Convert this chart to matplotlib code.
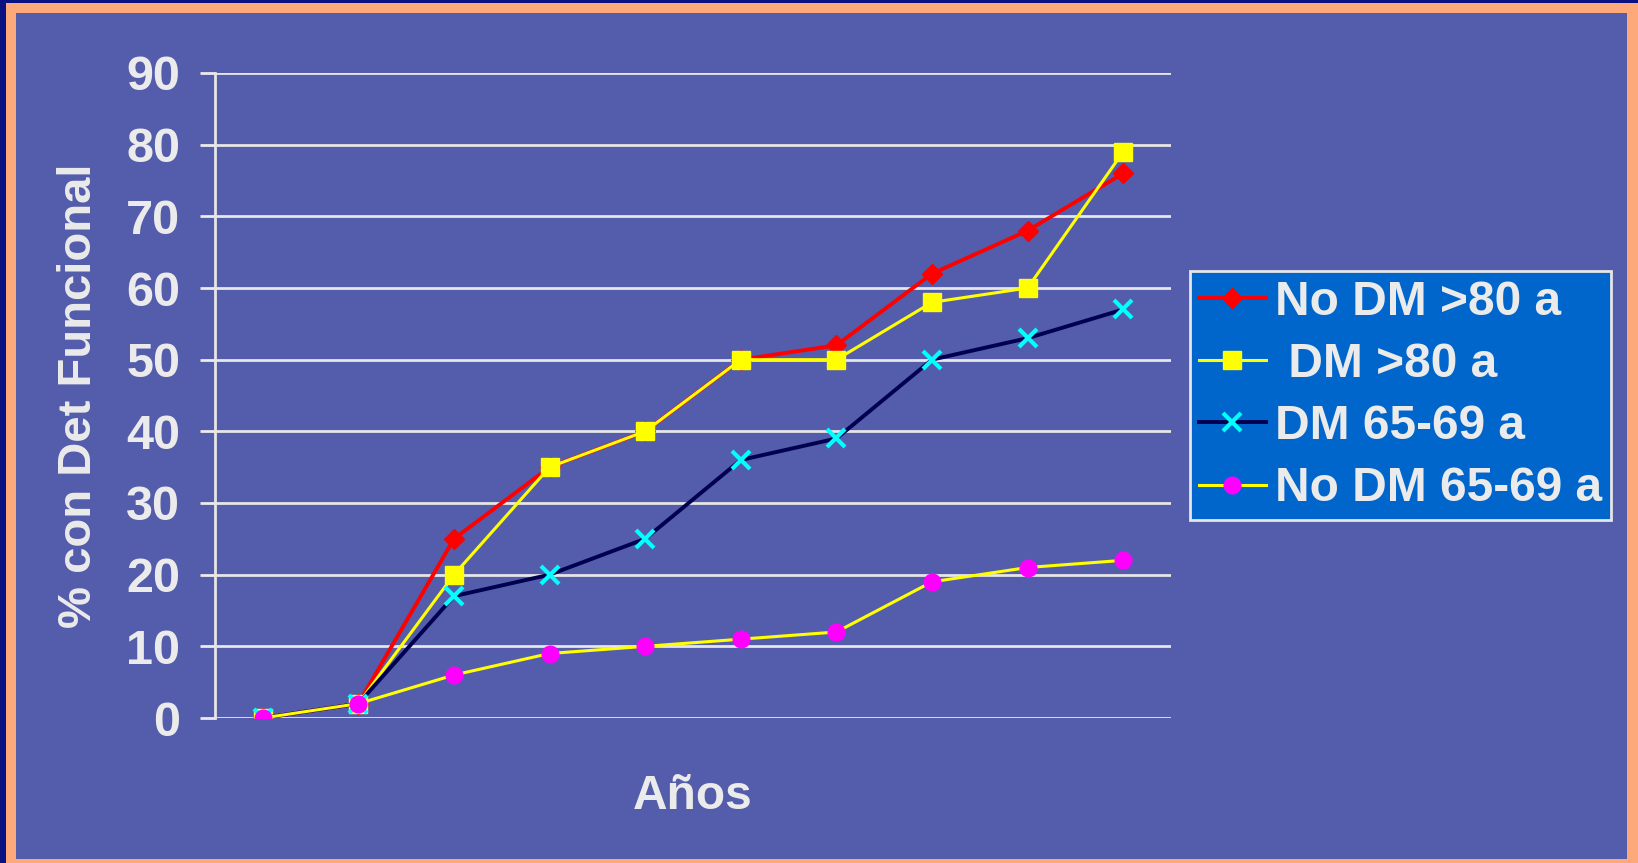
import matplotlib.pyplot as plt
from matplotlib.patches import Rectangle

plt.rcParams['font.family'] = ['Liberation Sans', 'DejaVu Sans']

years = list(range(10))
no_dm_80 = [0, 2, 25, 35, 40, 50, 52, 62, 68, 76]
dm_80 = [0, 2, 20, 35, 40, 50, 50, 58, 60, 79]
dm_65 = [0, 2, 17, 20, 25, 36, 39, 50, 53, 57]
no_dm_65 = [0, 2, 6, 9, 10, 11, 12, 19, 21, 22]
labels = ['No DM >80 a', ' DM >80 a', 'DM 65-69 a', 'No DM 65-69 a']
yticks = list(range(0, 100, 10))

txt = '#EBEBEB'
W, H = 1638, 863
fig = plt.figure(figsize=(W / 100, H / 100), dpi=100)
fig.patch.set_facecolor('#0A1282')
# orange frame and purple panel
fig.patches.append(Rectangle((6 / W, 0), 1 - 6 / W, 1 - 3 / H, transform=fig.transFigure,
                             facecolor='#FDA979', edgecolor='none', zorder=-10))
fig.patches.append(Rectangle((16 / W, 4 / H), (1627 - 16) / W, (859 - 13) / H,
                             transform=fig.transFigure, facecolor='#545CAC',
                             edgecolor='none', zorder=-9))

ax = fig.add_axes([215 / W, 1 - 718 / H, (1171 - 215) / W, (718 - 73) / H])
ax.set_facecolor('none')

ax.plot(years, no_dm_80, color='#FF0000', lw=2.8, marker='D', ms=10,
        mfc='#FF0000', mec='#FF0000', label=labels[0])
ax.plot(years, dm_80, color='#FFFF00', lw=2.2, marker='s', ms=12.5,
        mfc='#FFFF00', mec='#FFFF00', label=labels[1])
ax.plot(years, dm_65, color='#000050', lw=2.8, marker='x', ms=13.5, mew=3,
        mec='#00FFFF', label=labels[2])
ax.plot(years, no_dm_65, color='#FFFF00', lw=2.2, marker='o', ms=12,
        mfc='#FF00FF', mec='#FF00FF', label=labels[3])

ax.set_xlim(-0.5, 9.5)
ax.set_ylim(0, 90)
ax.set_yticks(yticks)
ax.set_xticks([])
ax.grid(axis='y', color='#E6E6E6', lw=2)
ax.set_axisbelow(True)
for s in ['top', 'right', 'bottom']:
    ax.spines[s].set_visible(False)
ax.spines['left'].set_color('#E6E6E6')
ax.spines['left'].set_linewidth(2)
ax.tick_params(axis='y', colors=txt, direction='out', length=11, width=2,
               labelsize=35, pad=14)
for t in ax.get_yticklabels():
    t.set_fontweight('bold')

ax.set_ylabel('% con Det Funcional', color=txt, fontsize=34, fontweight='bold', labelpad=18)
ax.set_xlabel('Años', color=txt, fontsize=34.5, fontweight='bold', labelpad=40)

leg = ax.legend(loc='center left', bbox_to_anchor=(1190 / W, 1 - 395.5 / H),
                bbox_transform=fig.transFigure, fontsize=34.5, frameon=True,
                fancybox=False, facecolor='#0066CC', edgecolor='#E6E6E6',
                framealpha=1, handlelength=1.4, handletextpad=0.2,
                labelspacing=0.36, borderpad=0.18, borderaxespad=0)
leg.get_frame().set_linewidth(2)
for t in leg.get_texts():
    t.set_color(txt)
    t.set_fontweight('bold')

fig.savefig('out.png', dpi=100, facecolor=fig.get_facecolor())
